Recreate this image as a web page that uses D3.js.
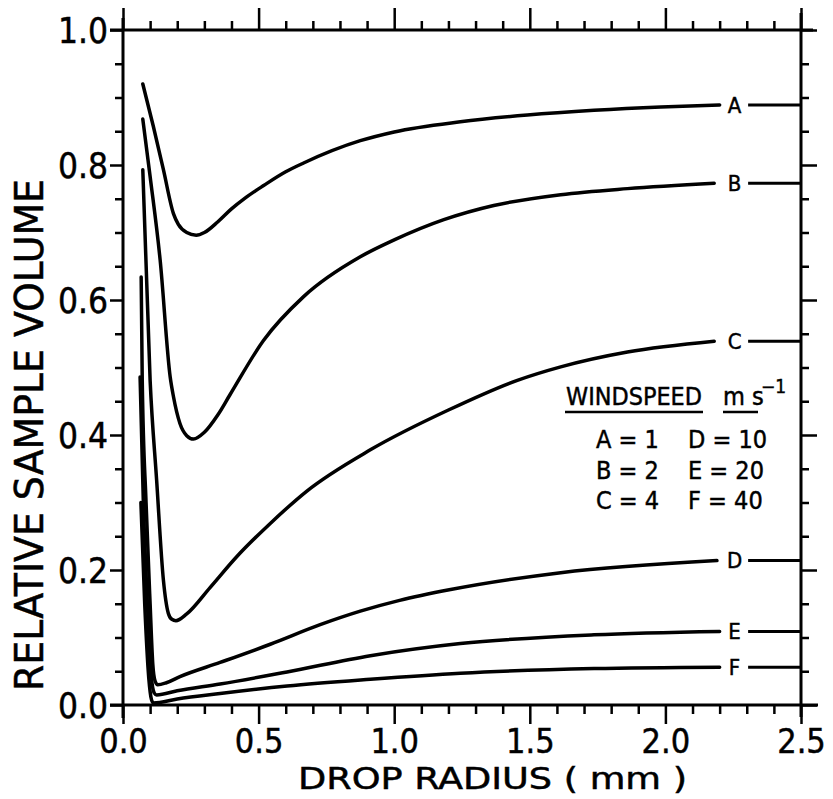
<!DOCTYPE html>
<html>
<head>
<meta charset="utf-8">
<script src="https://cdn.jsdelivr.net/npm/d3@7"></script>
<style>
  body { margin: 0; background: #fff; }
  svg { display: block; font-family: "DejaVu Sans Condensed", "DejaVu Sans", sans-serif; font-stretch: condensed; }
  svg text { fill: #000; stroke: #000; stroke-width: 0.45px; }
</style>
</head>
<body>
<svg id="chart" width="833" height="799"></svg>
<script>
// series names + windspeeds (m/s)
const seriesNames = ['A', 'B', 'C', 'D', 'E', 'F']
const windspeeds = [1, 2, 4, 10, 20, 40]

// [drop radius (mm), relative sample volume]
const curveA = [[0.073,0.920],[0.112,0.857],[0.149,0.793],[0.186,0.728],[0.204,0.712],[0.235,0.700],[0.270,0.696],[0.300,0.700],[0.350,0.716],[0.400,0.735],[0.450,0.751],[0.520,0.770],[0.600,0.790],[0.666,0.803],[0.875,0.836],[1.0,0.849],[1.244,0.864],[1.491,0.874],[1.737,0.881],[1.983,0.886],[2.20,0.889]]
const curveB = [[0.073,0.868],[0.100,0.783],[0.137,0.659],[0.174,0.486],[0.186,0.457],[0.210,0.417],[0.235,0.399],[0.260,0.394],[0.300,0.404],[0.350,0.430],[0.395,0.460],[0.518,0.540],[0.666,0.605],[0.875,0.664],[1.0,0.689],[1.183,0.719],[1.367,0.740],[1.614,0.756],[1.86,0.765],[2.18,0.773]]
const curveC = [[0.073,0.793],[0.100,0.481],[0.124,0.333],[0.149,0.185],[0.167,0.136],[0.180,0.127],[0.195,0.125],[0.235,0.135],[0.321,0.174],[0.420,0.220],[0.543,0.269],[0.678,0.317],[0.912,0.378],[1.20,0.437],[1.454,0.481],[1.614,0.501],[1.86,0.523],[2.18,0.539]]
const curveD = [[0.067,0.634],[0.071,0.480],[0.085,0.300],[0.100,0.150],[0.110,0.060],[0.118,0.036],[0.128,0.030],[0.160,0.033],[0.210,0.042],[0.358,0.063],[0.543,0.090],[0.727,0.119],[0.875,0.139],[1.02,0.155],[1.208,0.171],[1.614,0.196],[2.19,0.214]]
const curveE = [[0.063,0.486],[0.075,0.300],[0.090,0.150],[0.105,0.040],[0.115,0.018],[0.124,0.015],[0.200,0.021],[0.358,0.031],[0.605,0.049],[0.912,0.073],[1.244,0.091],[1.737,0.104],[2.20,0.109]]
const curveF = [[0.066,0.300],[0.080,0.150],[0.095,0.040],[0.105,0.008],[0.112,0.003],[0.200,0.009],[0.358,0.017],[0.605,0.028],[0.912,0.038],[1.244,0.047],[1.737,0.054],[2.20,0.056]]
const curves = [curveA, curveB, curveC, curveD, curveE, curveF]

// ticks
const xTickValues = d3.range(26).map(i => i / 10)
const xTickLabels = ['0.0', '0.5', '1.0', '1.5', '2.0', '2.5']
const yTickValues = d3.range(21).map(i => i / 20)
const yTickLabels = ['0.0', '0.2', '0.4', '0.6', '0.8', '1.0']

const svg = d3.select('#chart')

const x = d3.scaleLinear().domain([0, 2.5]).range([123, 801])
const y = d3.scaleLinear().domain([0, 1]).range([705, 30])

const isXMajor = d => Math.round(d * 10) % 5 === 0
const isYMajor = d => Math.round(d * 20) % 4 === 0

// axes - all four sides
const gBottom = svg.append('g').attr('transform', `translate(0,${y(0)})`)
  .call(d3.axisBottom(x).tickValues(xTickValues).tickSize(9).tickSizeOuter(0)
    .tickFormat(d => isXMajor(d) ? xTickLabels[Math.round(d * 2)] : ''))
const gTop = svg.append('g').attr('transform', `translate(0,${y(1)})`)
  .call(d3.axisTop(x).tickValues(xTickValues).tickSize(9).tickSizeOuter(0).tickFormat(''))
const gLeft = svg.append('g').attr('transform', `translate(${x(0)},0)`)
  .call(d3.axisLeft(y).tickValues(yTickValues).tickSize(8).tickSizeOuter(0)
    .tickFormat(d => isYMajor(d) ? yTickLabels[Math.round(d * 5)] : ''))
const gRight = svg.append('g').attr('transform', `translate(${x(2.5)},0)`)
  .call(d3.axisRight(y).tickValues(yTickValues).tickSize(8).tickSizeOuter(0).tickFormat(''))

gBottom.selectAll('.tick line').filter(isXMajor).attr('y2', 19)
gTop.selectAll('.tick line').filter(isXMajor).attr('y2', -22)
gLeft.selectAll('.tick line').filter(isYMajor).attr('x2', -13)
gRight.selectAll('.tick line').filter(isYMajor).attr('x2', 16)

;[gBottom, gTop, gLeft, gRight].forEach(g => {
  g.select('.domain').remove()
  g.attr('font-family', null).attr('font-size', null)
  g.selectAll('.tick line').attr('stroke', '#000').attr('stroke-width', 2.5)
})

gBottom.selectAll('.tick text')
  .attr('y', 48).attr('dy', 0)
  .style('font-size', '34px')
gLeft.selectAll('.tick text')
  .attr('x', -15).attr('dy', '0.36em')
  .style('font-size', '35px')

// frame
const frame = svg.append('g').attr('stroke', '#000').attr('stroke-width', 3).attr('fill', 'none')
frame.append('line').attr('x1', x(0)).attr('x2', x(0)).attr('y1', y(1) - 12).attr('y2', y(0) + 13)
frame.append('line').attr('x1', x(2.5)).attr('x2', x(2.5)).attr('y1', y(1) - 17).attr('y2', y(0) + 12)
frame.append('line').attr('x1', x(0) - 13).attr('x2', x(2.5) + 12).attr('y1', y(1)).attr('y2', y(1))
frame.append('line').attr('x1', x(0) - 13).attr('x2', x(2.5) + 17).attr('y1', y(0)).attr('y2', y(0))

// curves
const line = d3.line()
  .x(d => x(d[0]))
  .y(d => y(d[1]))
  .curve(d3.curveMonotoneX)

svg.append('g').selectAll('path')
  .data(curves)
  .join('path')
  .attr('d', line)
  .attr('fill', 'none')
  .attr('stroke', '#000')
  .attr('stroke-width', 3.5)
  .attr('stroke-linecap', 'round')
  .attr('stroke-linejoin', 'round')

// curve letters + tails to the right axis
const labelX = 2.255
const labels = svg.append('g')
curves.forEach((c, i) => {
  const last = c[c.length - 1][1]
  labels.append('text')
    .attr('x', x(labelX)).attr('y', y(last))
    .attr('dy', '0.36em')
    .attr('text-anchor', 'middle')
    .style('font-size', '22px')
    .text(seriesNames[i])
  labels.append('line')
    .attr('x1', x(2.305)).attr('x2', x(2.5))
    .attr('y1', y(last)).attr('y2', y(last))
    .attr('stroke', '#000').attr('stroke-width', 3)
})

// legend
const legend = svg.append('g').style('font-size', '25px')
legend.append('text').attr('x', 566).attr('y', 405)
  .attr('textLength', 136).attr('lengthAdjust', 'spacingAndGlyphs').text('WINDSPEED')
legend.append('line').attr('x1', 565).attr('x2', 703).attr('y1', 412).attr('y2', 412)
  .attr('stroke', '#000').attr('stroke-width', 2.5)
legend.append('text').attr('x', 723).attr('y', 405).text('m s')
legend.append('text').attr('x', 761).attr('y', 393).style('font-size', '19px').text('\u22121')
legend.append('line').attr('x1', 723).attr('x2', 758).attr('y1', 412).attr('y2', 412)
  .attr('stroke', '#000').attr('stroke-width', 2.5)

const rowY = [448, 479, 509]
seriesNames.forEach((name, i) => {
  const col = Math.floor(i / 3)
  legend.append('text')
    .attr('x', col === 0 ? 596 : 688)
    .attr('y', rowY[i % 3])
    .text(`${name} = ${windspeeds[i]}`)
})

// axis titles
svg.append('text')
  .attr('x', 298).attr('y', 789)
  .attr('textLength', 389).attr('lengthAdjust', 'spacingAndGlyphs')
  .style('font-size', '30px')
  .text('DROP  RADIUS  ( mm )')

svg.append('text')
  .attr('transform', 'translate(43,435) rotate(-90)')
  .attr('text-anchor', 'middle')
  .attr('textLength', 512).attr('lengthAdjust', 'spacingAndGlyphs')
  .style('font-size', '39px')
  .text('RELATIVE  SAMPLE  VOLUME')
</script>
</body>
</html>
